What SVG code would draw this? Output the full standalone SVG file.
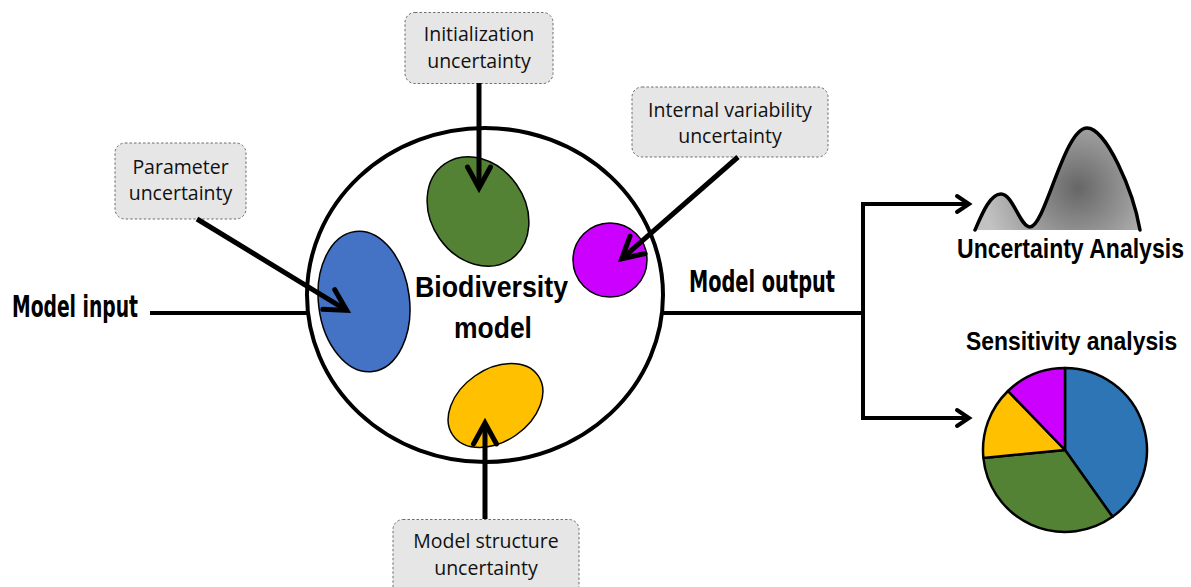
<svg xmlns="http://www.w3.org/2000/svg" width="1191" height="587" viewBox="0 0 1191 587">
<style>
.box{fill:#e7e6e6;stroke:#6e6e6e;stroke-width:1;stroke-dasharray:2.5 2}
.lbl{font-family:"Open Sans","Liberation Sans",sans-serif;font-size:19.5px;fill:#111;text-anchor:middle}
.cond{font-family:"DejaVu Sans Condensed","DejaVu Sans",sans-serif;font-weight:bold;font-stretch:condensed;fill:#000}
.ar{font-family:"Liberation Sans",Arial,sans-serif;font-weight:bold;fill:#000}
.thick{stroke:#000;stroke-width:5;fill:none}
.flow{stroke:#000;stroke-width:4;fill:none}
.blob{stroke:#000;stroke-width:1.5}
.pie{stroke:#000;stroke-width:2.5;stroke-linejoin:round}
</style>
<defs>
<marker id="chev" markerUnits="userSpaceOnUse" orient="auto" markerWidth="40" markerHeight="40" refX="0" refY="0" viewBox="-30 -20 40 40" overflow="visible">
<path d="M -21 -11.5 L 0 0 L -21 11.5" fill="none" stroke="#000" stroke-width="5" stroke-linecap="round"/>
</marker>
<marker id="chevs" markerUnits="userSpaceOnUse" orient="auto" markerWidth="30" markerHeight="30" refX="0" refY="0" viewBox="-20 -15 30 30" overflow="visible">
<path d="M -12 -8 L 0 0 L -12 8" fill="none" stroke="#000" stroke-width="4" stroke-linecap="round"/>
</marker>
<radialGradient id="mound" gradientUnits="userSpaceOnUse" cx="1078" cy="188" r="95">
<stop offset="0" stop-color="#666"/>
<stop offset="1" stop-color="#c2c2c2"/>
</radialGradient>
</defs>

<g id="biodiversity-model">
<ellipse cx="485" cy="295" rx="178" ry="167" fill="#fff" stroke="#000" stroke-width="4"/>
<ellipse id="blue-ellipse" class="blob" cx="364" cy="301.5" rx="45.5" ry="70.5" fill="#4472c4" transform="rotate(-7 364 301.5)"/>
<ellipse id="green-ellipse" class="blob" cx="478" cy="211.5" rx="47" ry="58" fill="#548235" transform="rotate(-35 478 211.5)"/>
<circle id="magenta-circle" class="blob" cx="610" cy="260" r="37" fill="#cc00ff"/>
<ellipse id="yellow-ellipse" class="blob" cx="495.5" cy="405.5" rx="52" ry="36" fill="#ffc000" transform="rotate(-35 495.5 405.5)"/>
<text class="ar" font-size="30" transform="translate(415 297) scale(0.89 1)" x="0" y="0" textLength="172" lengthAdjust="spacingAndGlyphs">Biodiversity</text>
<text class="ar" font-size="30" transform="translate(454 338) scale(0.88 1)" x="0" y="0" textLength="88.6" lengthAdjust="spacingAndGlyphs">model</text>
</g>

<g id="initialization-uncertainty">
<rect class="box" x="405" y="12.5" width="148" height="71" rx="10"/>
<text class="lbl" x="479" y="41">Initialization</text>
<text class="lbl" x="479" y="68">uncertainty</text>
</g>

<g id="parameter-uncertainty">
<rect class="box" x="115" y="143" width="131" height="76" rx="10"/>
<text class="lbl" x="180.5" y="174">Parameter</text>
<text class="lbl" x="180.5" y="200">uncertainty</text>
</g>

<g id="internal-variability-uncertainty">
<rect class="box" x="632" y="87" width="196" height="70" rx="10"/>
<text class="lbl" x="730" y="116.5">Internal variability</text>
<text class="lbl" x="730" y="143">uncertainty</text>
</g>

<g id="model-structure-uncertainty">
<rect class="box" x="393" y="519.5" width="186" height="80" rx="10"/>
<text class="lbl" x="486" y="548">Model structure</text>
<text class="lbl" x="486" y="575">uncertainty</text>
</g>

<g id="model-input">
<text class="cond" font-size="31" x="12" y="317" textLength="126" lengthAdjust="spacingAndGlyphs">Model input</text>
</g>

<g id="model-output">
<text class="cond" font-size="31" x="689" y="292" textLength="146" lengthAdjust="spacingAndGlyphs">Model output</text>
</g>

<g id="uncertainty-analysis">
<path d="M 975 230 C 982 214 990 194 1001 194 C 1013 194 1020 227 1030 227 C 1045 227 1064 128 1087 128 C 1106 128 1133 190 1140 230 Z" fill="url(#mound)"/>
<path d="M 975 230 C 982 214 990 194 1001 194 C 1013 194 1020 227 1030 227 C 1045 227 1064 128 1087 128 C 1106 128 1133 190 1140 230" fill="none" stroke="#000" stroke-width="3.5" stroke-linecap="round"/>
<text class="ar" font-size="27" transform="translate(957 258) scale(0.85 1)" x="0" y="0" textLength="267" lengthAdjust="spacingAndGlyphs">Uncertainty Analysis</text>
</g>

<g id="sensitivity-analysis">
<text class="ar" font-size="26" transform="translate(966 350) scale(0.88 1)" x="0" y="0" textLength="240" lengthAdjust="spacingAndGlyphs">Sensitivity analysis</text>
<path class="pie" fill="#2e75b6" d="M 1065 450 L 1065 368 A 82 82 0 0 1 1112.5 516.8 Z"/>
<path class="pie" fill="#548235" d="M 1065 450 L 1112.5 516.8 A 82 82 0 0 1 983.4 458 Z"/>
<path class="pie" fill="#ffc000" d="M 1065 450 L 983.4 458 A 82 82 0 0 1 1008 391 Z"/>
<path class="pie" fill="#cc00ff" d="M 1065 450 L 1008 391 A 82 82 0 0 1 1065 368 Z"/>
</g>

<g id="connectors">
<line class="flow" x1="150" y1="313" x2="308" y2="313"/>
<line class="flow" x1="663" y1="313" x2="863" y2="313"/>
<path class="flow" d="M 863 204 V 418" stroke-linecap="square"/>
<path class="flow" d="M 861 204 H 969" marker-end="url(#chevs)"/>
<path class="flow" d="M 861 418 H 969" marker-end="url(#chevs)"/>
<line class="thick" x1="479" y1="83" x2="479" y2="188" marker-end="url(#chev)"/>
<line class="thick" x1="197" y1="219" x2="346.7" y2="310.4" marker-end="url(#chev)"/>
<line class="thick" x1="738" y1="157" x2="621.8" y2="258.7" marker-end="url(#chev)"/>
<line class="thick" x1="485" y1="519" x2="485" y2="423" marker-end="url(#chev)"/>
</g>
</svg>
